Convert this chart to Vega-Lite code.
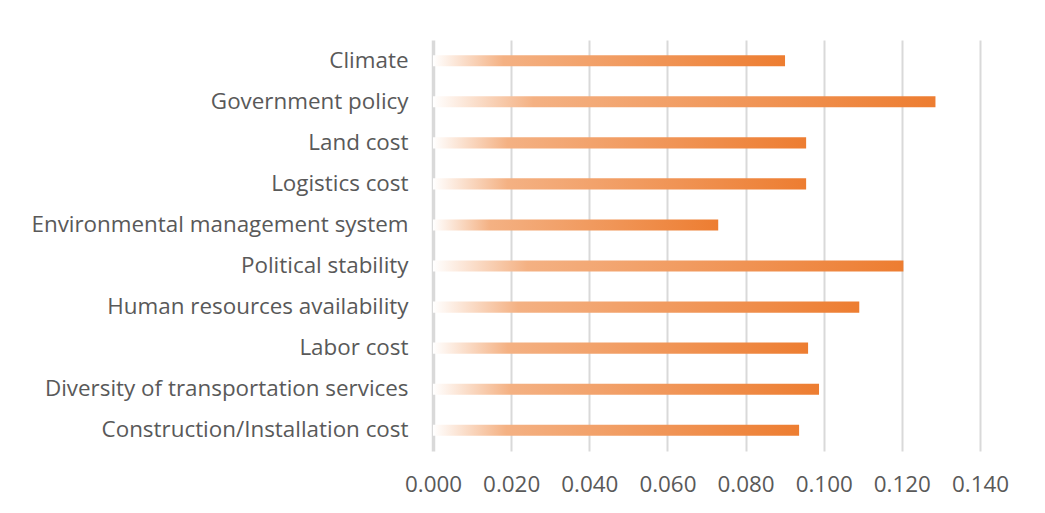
{
  "$schema": "https://vega.github.io/schema/vega-lite/v6.json",
  "autosize": {"type": "none"},
  "padding": {"left": 433, "top": 40, "right": 65, "bottom": 62},
  "width": 547,
  "height": 411,
  "background": "white",
  "config": {"view": {"stroke": null}},
  "data": {
    "values": [
      {"factor": "Climate", "value": 0.0901},
      {"factor": "Government policy", "value": 0.1286},
      {"factor": "Land cost", "value": 0.0955},
      {"factor": "Logistics cost", "value": 0.0955},
      {"factor": "Environmental management system", "value": 0.0730},
      {"factor": "Political stability", "value": 0.1204},
      {"factor": "Human resources availability", "value": 0.1091},
      {"factor": "Labor cost", "value": 0.0960},
      {"factor": "Diversity of transportation services", "value": 0.0988},
      {"factor": "Construction/Installation cost", "value": 0.0937}
    ]
  },
  "mark": {
    "type": "bar",
    "fill": {
      "gradient": "linear",
      "x1": 0, "y1": 0, "x2": 1, "y2": 0,
      "stops": [
        {"offset": 0, "color": "#ffffff"},
        {"offset": 0.2, "color": "#f4b183"},
        {"offset": 1, "color": "#ed7d31"}
      ]
    }
  },
  "encoding": {
    "y": {
      "field": "factor",
      "type": "nominal",
      "sort": null,
      "scale": {"paddingInner": 0.73, "paddingOuter": 0.37},
      "axis": {
        "title": null,
        "domain": false,
        "ticks": false,
        "labelPadding": 25,
        "labelFont": "Open Sans",
        "labelFontSize": 22.4,
        "labelColor": "#595959",
        "labelLimit": 430
      }
    },
    "x": {
      "field": "value",
      "type": "quantitative",
      "scale": {"domain": [0, 0.14], "nice": false},
      "axis": {
        "title": null,
        "domain": false,
        "ticks": false,
        "values": [0, 0.02, 0.04, 0.06, 0.08, 0.1, 0.12, 0.14],
        "format": ".3f",
        "labelPadding": 22,
        "labelFont": "Open Sans",
        "labelFontSize": 22.4,
        "labelColor": "#595959",
        "grid": true,
        "gridColor": "#d9d9d9",
        "gridWidth": {"condition": {"test": "datum.value === 0", "value": 3.5}, "value": 2},
        "labelFlush": false
      }
    }
  }
}
